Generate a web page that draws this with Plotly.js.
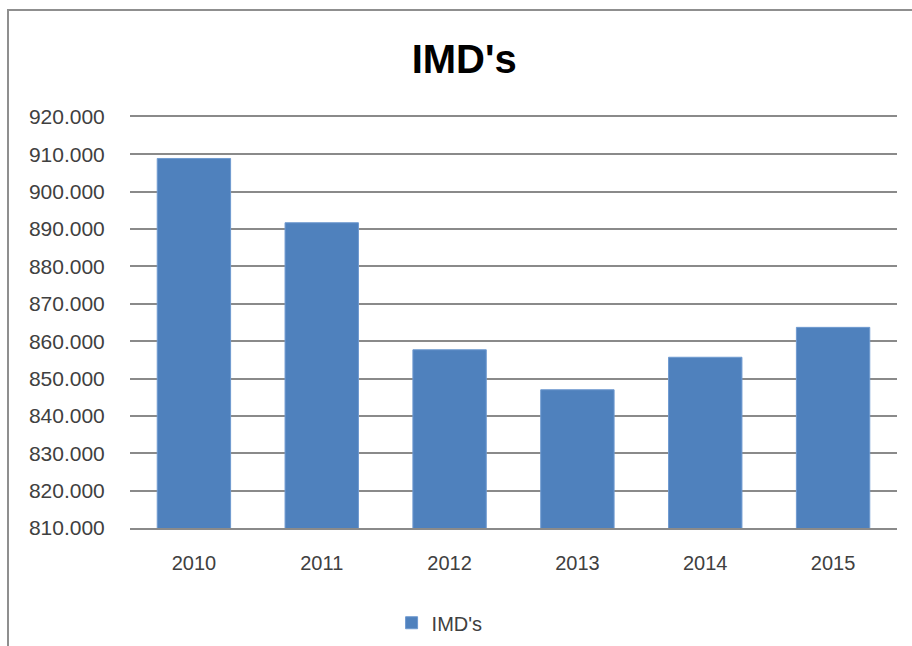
<!DOCTYPE html>
<html>
<head>
<meta charset="utf-8">
<script src="https://cdn.plot.ly/plotly-3.0.1.min.js"></script>
<style>
  html, body { margin: 0; padding: 0; background: #ffffff; }
  #chart { position: absolute; left: 0; top: 0; width: 912px; height: 646px; }
  #frame { position: absolute; left: 7px; top: 9px; width: 920px; height: 660px;
           border-top: 2px solid #8f8f8f; border-left: 2px solid #8f8f8f;
           pointer-events: none; box-sizing: border-box; }
</style>
</head>
<body>
<div id="chart"></div>
<div id="frame"></div>
<script>
const years = ['2010', '2011', '2012', '2013', '2014', '2015'];
const imdValues = [908900, 891700, 857700, 847000, 855700, 863700];
const seriesName = "IMD's";
const chartTitle = "IMD's";
const yTickValues = [810000, 820000, 830000, 840000, 850000, 860000, 870000, 880000, 890000, 900000, 910000, 920000];

const fontFamily = 'Liberation Sans, Arial, sans-serif';

const trace = {
  type: 'bar',
  x: years,
  y: imdValues,
  name: seriesName,
  marker: { color: '#4F81BD', line: { color: '#6f9ad0', width: 1 } },
  showlegend: true,
  hoverinfo: 'x+y'
};

const layout = {
  width: 912,
  height: 646,
  paper_bgcolor: '#ffffff',
  plot_bgcolor: '#ffffff',
  separators: ',.',
  margin: { l: 130, r: 15, t: 117, b: 118, pad: 0 },
  title: {
    text: '<b>' + chartTitle + '</b>',
    font: { family: fontFamily, size: 40, color: '#000000' },
    xref: 'container', yref: 'container',
    x: 0.509, y: 0.908, xanchor: 'center', yanchor: 'middle'
  },
  font: { family: fontFamily, size: 20, color: '#404040' },
  bargap: 0.426,
  xaxis: {
    type: 'category',
    showgrid: false,
    showline: true,
    mirror: true,
    linecolor: '#8a8a8a',
    linewidth: 2,
    zeroline: false,
    ticks: 'outside',
    ticklen: 16,
    tickcolor: 'rgba(0,0,0,0)',
    tickfont: { family: fontFamily, size: 20, color: '#404040' }
  },
  yaxis: {
    range: [810000, 920000],
    tickvals: yTickValues,
    tickformat: ',.0f',
    showgrid: true,
    gridcolor: '#8a8a8a',
    gridwidth: 2,
    zeroline: false,
    showline: false,
    ticks: 'outside',
    ticklen: 20,
    tickcolor: 'rgba(0,0,0,0)',
    tickfont: { family: fontFamily, size: 21, color: '#404040' }
  },
  legend: {
    orientation: 'h',
    xref: 'container', yref: 'container',
    x: 0.482, y: 0.036, xanchor: 'center', yanchor: 'middle',
    font: { family: fontFamily, size: 20, color: '#404040' },
    itemwidth: 30
  }
};

Plotly.newPlot('chart', [trace], layout, { displayModeBar: false, staticPlot: true });
</script>
</body>
</html>
